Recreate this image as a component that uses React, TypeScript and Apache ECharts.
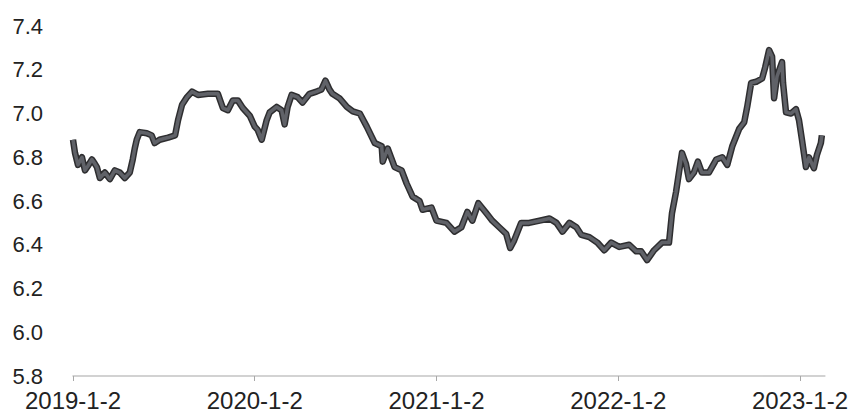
import React, { useEffect, useRef } from "react";
import * as echarts from "echarts";

// x values: days since 2019-1-2
const days = [
  0, 4, 10, 18, 24, 30, 38, 44, 48, 54, 64, 74, 84, 94, 104, 114, 120, 124, 128, 134,
  148, 158, 164, 174, 191, 205, 211, 219, 229, 239, 251, 271, 291, 301, 311, 321, 331, 341, 355, 365,
  371, 379, 389, 395, 409, 419, 425, 431, 439, 451, 461, 475, 489, 499, 507, 515, 521, 535, 550, 562,
  576, 590, 606, 620, 622, 632, 646, 660, 670, 682, 696, 702, 720, 730, 750, 766, 780, 792, 802, 814,
  830, 842, 856, 870, 878, 886, 900, 916, 937, 957, 971, 983, 997, 1011, 1021, 1037, 1053, 1067, 1081, 1097,
  1117, 1131, 1141, 1153, 1167, 1183, 1197, 1203, 1211, 1217, 1223, 1231, 1237, 1247, 1255, 1263, 1277, 1292, 1304, 1314,
  1324, 1338, 1348, 1354, 1362, 1372, 1384, 1390, 1398, 1404, 1408, 1414, 1424, 1426, 1432, 1442, 1452, 1458, 1464, 1472,
  1478, 1488, 1494, 1502, 1504,
];

const rates = [
  6.88, 6.82, 6.765, 6.8, 6.74, 6.76, 6.79, 6.77, 6.755, 6.705, 6.73, 6.7, 6.74, 6.73, 6.705, 6.73, 6.79, 6.84, 6.88, 6.915,
  6.91, 6.9, 6.865, 6.88, 6.89, 6.9, 6.97, 7.04, 7.075, 7.1, 7.085, 7.09, 7.09, 7.025, 7.015, 7.06, 7.06, 7.025, 6.99, 6.94,
  6.925, 6.88, 6.97, 7.005, 7.03, 7.015, 6.95, 7.03, 7.085, 7.075, 7.05, 7.09, 7.1, 7.11, 7.15, 7.11, 7.09, 7.07, 7.03, 7.01,
  7.0, 6.94, 6.865, 6.85, 6.78, 6.84, 6.755, 6.74, 6.68, 6.62, 6.6, 6.56, 6.57, 6.51, 6.5, 6.46, 6.48, 6.55, 6.51, 6.59,
  6.545, 6.51, 6.48, 6.45, 6.385, 6.42, 6.5, 6.5, 6.51, 6.52, 6.5, 6.46, 6.5, 6.48, 6.445, 6.435, 6.41, 6.375, 6.41, 6.39,
  6.4, 6.37, 6.37, 6.33, 6.375, 6.41, 6.41, 6.545, 6.64, 6.73, 6.82, 6.77, 6.7, 6.73, 6.78, 6.73, 6.73, 6.79, 6.8, 6.765,
  6.85, 6.93, 6.96, 7.03, 7.14, 7.145, 7.16, 7.21, 7.29, 7.26, 7.07, 7.17, 7.235, 7.14, 7.005, 7.0, 7.02, 6.97, 6.88, 6.755,
  6.8, 6.75, 6.81, 6.865, 6.9,
];

const tickDays = [0, 365, 730, 1095, 1460];
const tickLabels = ["2019-1-2", "2020-1-2", "2021-1-2", "2022-1-2", "2023-1-2"];

export default function App() {
  const ref = useRef<HTMLDivElement>(null);
  useEffect(() => {
    if (!ref.current) return;
    const chart = echarts.init(ref.current, undefined, { renderer: "svg" });
    const data = days.map((d, i) => [d, rates[i]]);
    chart.setOption({
      animation: false,
      backgroundColor: "#ffffff",
      grid: { left: 73, right: 25, top: 26, bottom: 36, containLabel: false },
      xAxis: {
        type: "value",
        min: 0,
        max: 1510,
        axisLine: { show: true, lineStyle: { color: "#c4c4c4", width: 1.5 } },
        axisTick: {
          show: true,
          customValues: tickDays,
          length: 5,
          inside: false,
          lineStyle: { color: "#a8a8a8", width: 1 },
        },
        axisLabel: {
          customValues: tickDays,
          formatter: (v: number) => {
            const idx = tickDays.indexOf(Math.round(v));
            return idx >= 0 ? tickLabels[idx] : "";
          },
          color: "#222222",
          fontSize: 24,
          fontFamily: "Liberation Sans, Arial, sans-serif",
          margin: 12,
        },
        splitLine: { show: false },
      },
      yAxis: {
        type: "value",
        min: 5.8,
        max: 7.4,
        interval: 0.2,
        axisLine: { show: false },
        axisTick: { show: false },
        splitLine: { show: false },
        axisLabel: {
          formatter: (v: number) => v.toFixed(1),
          color: "#222222",
          fontSize: 22,
          fontFamily: "Liberation Sans, Arial, sans-serif",
          margin: 30,
        },
      },
      series: [
        {
          type: "line",
          data,
          showSymbol: false,
          symbol: "none",
          lineStyle: { color: "#2e2e30", width: 6.5, join: "round" },
          z: 2,
        },
        {
          type: "line",
          data,
          showSymbol: false,
          symbol: "none",
          lineStyle: { color: "#606268", width: 3.5, join: "round" },
          z: 3,
        },
      ],
    });
    return () => chart.dispose();
  }, []);
  return (
    <div
      ref={ref}
      style={{ position: "absolute", left: 0, top: 0, width: 851, height: 412 }}
    />
  );
}
